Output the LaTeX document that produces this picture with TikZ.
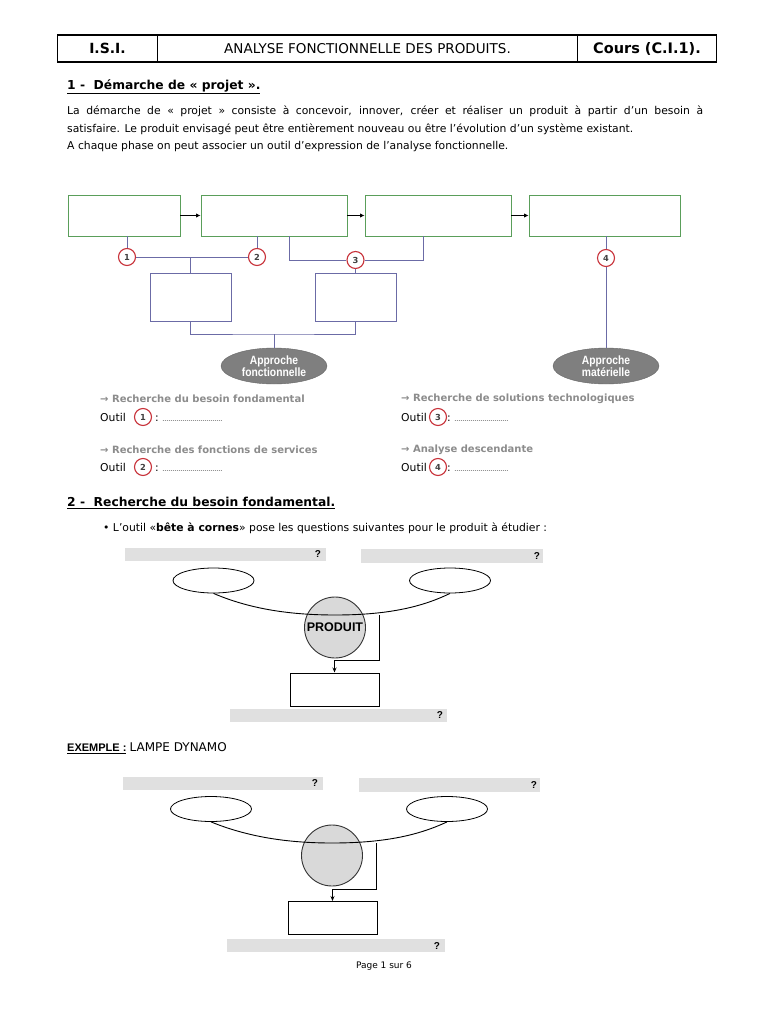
\documentclass[tikz,border=0pt]{standalone}
\usepackage{fontspec}
\setmainfont{DejaVu Sans}
\newfontfamily\arial{Liberation Sans}
\newfontfamily\arialn[FakeStretch=0.86]{Liberation Sans}
\usetikzlibrary{shapes.geometric,arrows.meta}
\definecolor{gbox}{HTML}{5A9E5A}
\definecolor{pline}{HTML}{6B6BA6}
\definecolor{rcirc}{HTML}{C8323A}
\definecolor{ellc}{HTML}{7F7F7F}
\definecolor{barc}{HTML}{E0E0E0}
\definecolor{lblc}{HTML}{8C8C8C}
\definecolor{pfill}{HTML}{D9D9D9}
\begin{document}
\begin{tikzpicture}[x=1pt,y=-1pt,
  phase/.style={draw=gbox,line width=0.9pt,inner sep=0,minimum height=41},
  sbox/.style={draw=pline,line width=0.9pt,inner sep=0,minimum width=81,minimum height=48},
  pl/.style={draw=pline,line width=0.9pt},
  flow/.style={line width=1.3pt,-{Latex[length=4.5pt,width=4.5pt]}},
  numc/.style={circle,draw=rcirc,fill=white,line width=1.1pt,minimum size=17,inner sep=0,text=black!75,font=\bfseries\fontsize{8.3}{9}\selectfont},
  appr/.style={ellipse,fill=ellc,draw=ellc!80!black,line width=0.4pt,minimum width=106,minimum height=36,inner sep=0,text=white,align=center,font=\arialn\bfseries\fontsize{12}{12.5}\selectfont},
  lbl/.style={anchor=west,inner sep=0,text=lblc,font=\bfseries\fontsize{10}{11}\selectfont},
  txt/.style={anchor=base west,inner sep=0,font=\fontsize{10.8}{12}\selectfont},
  qbar/.style={fill=barc,draw=none,inner sep=0,minimum height=13},
  qm/.style={inner sep=0,font=\arial\bfseries\fontsize{10}{11}\selectfont},
  horn/.style={ellipse,draw=black,line width=0.8pt,minimum width=81,minimum height=25,inner sep=0},
  prod/.style={circle,draw=black!80,fill=pfill,line width=0.9pt,minimum size=61,inner sep=0,font=\arial\bfseries\fontsize{12.5}{14}\selectfont},
  resbox/.style={draw=black,line width=1pt,minimum width=89,minimum height=33,inner sep=0},
  cv/.style={line width=0.9pt},
  conn/.style={line width=0.9pt,-{Stealth[length=5pt,width=4pt]}}
]
\useasboundingbox[fill=white] (0,0) rectangle (768,1024);

% header
\node[draw,line width=1.1pt,minimum width=100,minimum height=27,inner sep=0] (h1) at (107.5,48.5) {};
\node[draw,line width=1.1pt,minimum width=420,minimum height=27,inner sep=0] (h2) at (367.5,48.5) {};
\node[draw,line width=1.1pt,minimum width=139,minimum height=27,inner sep=0] (h3) at (647,48.5) {};
\node[font=\bfseries\fontsize{14}{15}\selectfont] (t1) at (h1) {I.S.I.};
\node[font=\fontsize{13.5}{15}\selectfont] (t2) at (h2) {ANALYSE FONCTIONNELLE DES PRODUITS.};
\node[font=\bfseries\fontsize{14.5}{15}\selectfont] (t3) at (h3) {Cours (C.I.1).};

% section 1
\node[anchor=west,inner sep=0,font=\bfseries\fontsize{12.3}{14}\selectfont] (s1) at (67,87) {\underline{1 -\ \ Démarche de « projet ».}};
\node[anchor=north west,inner sep=0,text width=636,align=justify,font=\fontsize{10.8}{17.5}\selectfont] (para) at (67,106)
{La démarche de « projet » consiste à concevoir, innover, créer et réaliser un produit à partir d’un besoin à\linebreak
satisfaire. Le produit envisagé peut être entièrement nouveau ou être l’évolution d’un système existant.\\
A chaque phase on peut associer un outil d’expression de l’analyse fonctionnelle.};

% process diagram
\node[phase,minimum width=112] (p1) at (124,215.5) {};
\node[phase,minimum width=146] (p2) at (274,215.5) {};
\node[phase,minimum width=146] (p3) at (438,215.5) {};
\node[phase,minimum width=151] (p4) at (604.5,215.5) {};
\draw[flow] (p1) -- (p2);
\draw[flow] (p2) -- (p3);
\draw[flow] (p3) -- (p4);

\node[sbox] (ba) at (190.5,297) {};
\node[sbox] (bb) at (355.5,297) {};
\node[appr] (ef) at (274,366) {Approche\\fonctionnelle};
\node[appr] (em) at (606,366) {Approche\\matérielle};

\node[numc] (c1) at (127,257) {1};
\node[numc] (c2) at (257,257) {2};
\node[numc] (c3) at (355.5,260) {3};
\node[numc] (c4) at (606,258) {4};

\coordinate (ja) at (190.5,257);
\coordinate (p2b) at (289,236);
\coordinate (p3b) at (423,236);
\coordinate (je) at (274,334);

\draw[pl] (c1 |- p1.south) -- (c1);
\draw[pl] (c2 |- p2.south) -- (c2);
\draw[pl] (c1) -- (c2);
\draw[pl] (ja) -- (ba.north);
\draw[pl] (p2b) |- (c3);
\draw[pl] (c3) -| (p3b);
\draw[pl] (c3) -- (bb.north);
\draw[pl] (ba.south) |- (je) -| (bb.south);
\draw[pl] (je) -- (ef.north);
\draw[pl] (c4 |- p4.south) -- (c4);
\draw[pl] (c4) -- (em.north);

% tools
\node[lbl] (l1) at (100,399) {→ Recherche du besoin fondamental};
\node[txt] (o1) at (100,421) {Outil};
\node[numc] (oc1) at (143,417) {1};
\node[txt] (d1) at (155,421) {:\ \fontsize{6}{7}\selectfont…………………………};
\node[lbl] (l2) at (100,450) {→ Recherche des fonctions de services};
\node[txt] (o2) at (100,471) {Outil};
\node[numc] (oc2) at (143,467) {2};
\node[txt] (d2) at (155,471) {:\ \fontsize{6}{7}\selectfont…………………………};
\node[lbl] (l3) at (401,399) {→ Recherche de solutions technologiques};
\node[txt] (o3) at (401,421) {Outil};
\node[numc] (oc3) at (438,417) {3};
\node[txt] (d3) at (447,421) {:\ \fontsize{6}{7}\selectfont………………………};
\node[lbl] (l4) at (401,450) {→ Analyse descendante};
\node[txt] (o4) at (401,471) {Outil};
\node[numc] (oc4) at (438,467) {4};
\node[txt] (d4) at (447,471) {:\ \fontsize{6}{7}\selectfont………………………};

% section 2
\node[anchor=west,inner sep=0,font=\bfseries\fontsize{12.3}{14}\selectfont] (s2) at (67,503) {\underline{2 -\ \ Recherche du besoin fondamental.}};
\node[anchor=west,inner sep=0,font=\fontsize{10.8}{12}\selectfont] (bul) at (103,528) {• L’outil «\textbf{bête à cornes}» pose les questions suivantes pour le produit à étudier :};

% bete a cornes 1
\node[qbar,minimum width=201] (qa1) at (225.5,554.5) {};
\node[qm] (qa1m) at (318,554.5) {?};
\node[qbar,minimum width=182,minimum height=14] (qb1) at (452,556) {};
\node[qm] (qb1m) at (537,556) {?};
\node[horn] (ea1) at (213.5,580.5) {};
\node[horn] (eb1) at (450,580.5) {};
\node[prod] (pr1) at (335,627.5) {PRODUIT};
\draw[cv] (ea1.south) .. controls (250,609) and (290,615) .. (335,615) .. controls (385,615) and (420,608) .. (eb1.south);
\node[resbox] (rb1) at (334.5,689.5) {};
\coordinate (k1) at (379,615);
\coordinate (kk1) at (379,660);
\draw[conn] (k1) -- (kk1) -| (rb1.north);
\node[qbar,minimum width=217] (qc1) at (338.5,715.5) {};
\node[qm] (qc1m) at (440,715.5) {?};

% exemple
\node[anchor=west,inner sep=0] (ex) at (67,748) {{\arial\bfseries\fontsize{11}{12}\selectfont\underline{EXEMPLE :}}\ {\fontsize{12}{13}\selectfont LAMPE DYNAMO}};

\node[qbar,minimum width=200] (qa2) at (223,783) {};
\node[qm] (qa2m) at (315,783) {?};
\node[qbar,minimum width=181,minimum height=14] (qb2) at (449.5,785) {};
\node[qm] (qb2m) at (534,785) {?};
\node[horn] (ea2) at (211,809) {};
\node[horn] (eb2) at (447,809) {};
\node[prod] (pr2) at (332,855.5) {};
\draw[cv] (ea2.south) .. controls (248,837) and (288,843) .. (332,843) .. controls (382,843) and (417,836) .. (eb2.south);
\node[resbox] (rb2) at (332.5,918) {};
\coordinate (k2) at (376,843);
\coordinate (kk2) at (376,889);
\draw[conn] (k2) -- (kk2) -| (rb2.north);
\node[qbar,minimum width=218] (qc2) at (336,945.5) {};
\node[qm] (qc2m) at (437,945.5) {?};

\node[font=\fontsize{9}{10}\selectfont] (pg) at (384,966) {Page 1 sur 6};
\end{tikzpicture}
\end{document}
